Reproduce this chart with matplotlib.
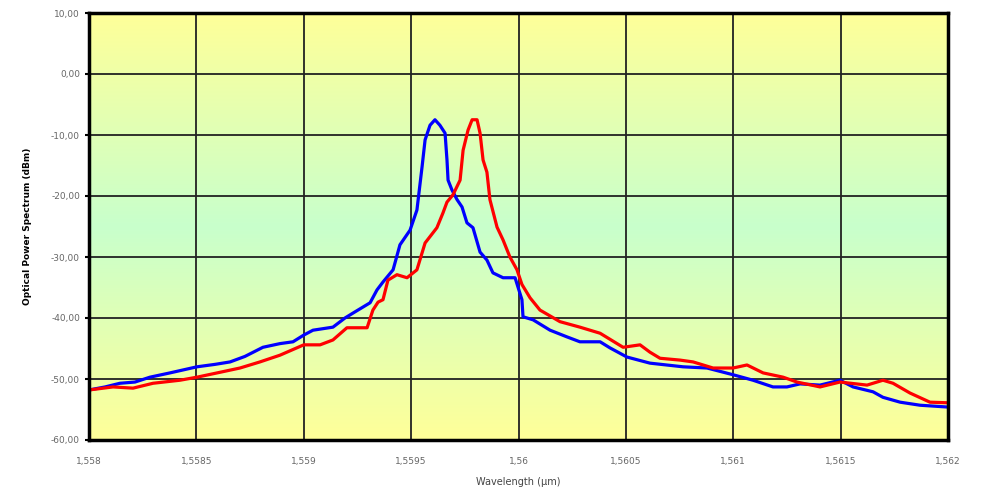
import numpy as np
import matplotlib
matplotlib.use('Agg')
import matplotlib.pyplot as plt
from matplotlib.colors import LinearSegmentedColormap
from matplotlib.ticker import FuncFormatter

# wavelength in um, power in dBm
blue_wl = [1.558000, 1.558075, 1.558144, 1.558214, 1.558284, 1.558377, 1.558503, 1.558587,
           1.558657, 1.558726, 1.558810, 1.558889, 1.558950, 1.559000, 1.559043, 1.559136,
           1.559192, 1.559229, 1.559309, 1.559341, 1.559369, 1.559416, 1.559448, 1.559495,
           1.559527, 1.559551, 1.559565, 1.559588, 1.559611, 1.559634, 1.559658, 1.559667,
           1.559672, 1.559690, 1.559714, 1.559737, 1.559760, 1.559788, 1.559821, 1.559853,
           1.559881, 1.559928, 1.559984, 1.560016, 1.560021, 1.560068, 1.560147, 1.560226,
           1.560286, 1.560380, 1.560426, 1.560505, 1.560612, 1.560766, 1.560878, 1.560999,
           1.561092, 1.561185, 1.561250, 1.561311, 1.561404, 1.561497, 1.561558, 1.561651,
           1.561697, 1.561777, 1.561870, 1.562000]
blue_db = [-51.8, -51.3, -50.7, -50.5, -49.7, -49.0, -48.0, -47.6,
           -47.2, -46.3, -44.8, -44.2, -43.9, -42.8, -42.0, -41.5,
           -40.0, -39.2, -37.5, -35.4, -34.1, -32.1, -28.0, -25.6,
           -22.3, -15.2, -10.8, -8.4, -7.5, -8.4, -9.7, -14.1,
           -17.4, -19.0, -20.6, -21.8, -24.4, -25.2, -29.2, -30.5,
           -32.6, -33.4, -33.4, -37.0, -39.8, -40.3, -42.0, -43.1,
           -43.9, -43.9, -44.9, -46.4, -47.4, -48.0, -48.2, -49.3,
           -50.2, -51.3, -51.3, -50.8, -51.0, -50.2, -51.3, -52.1,
           -53.0, -53.8, -54.3, -54.6]

red_wl = [1.558000, 1.558112, 1.558205, 1.558298, 1.558424, 1.558503, 1.558610, 1.558703,
          1.558796, 1.558889, 1.559000, 1.559076, 1.559136, 1.559201, 1.559295, 1.559322,
          1.559346, 1.559369, 1.559392, 1.559434, 1.559481, 1.559527, 1.559565, 1.559620,
          1.559648, 1.559667, 1.559695, 1.559728, 1.559742, 1.559765, 1.559784, 1.559807,
          1.559821, 1.559835, 1.559853, 1.559867, 1.559900, 1.559928, 1.559960, 1.559993,
          1.560016, 1.560054, 1.560100, 1.560193, 1.560286, 1.560380, 1.560487, 1.560566,
          1.560612, 1.560659, 1.560752, 1.560813, 1.560906, 1.560999, 1.561064, 1.561139,
          1.561232, 1.561297, 1.561404, 1.561497, 1.561623, 1.561697, 1.561744, 1.561823,
          1.561916, 1.562000]
red_db = [-51.8, -51.3, -51.5, -50.7, -50.2, -49.7, -48.9, -48.2,
          -47.2, -46.1, -44.4, -44.4, -43.6, -41.6, -41.6, -38.7,
          -37.4, -37.0, -33.8, -32.9, -33.4, -32.1, -27.7, -25.2,
          -22.8, -21.0, -19.8, -17.4, -12.5, -9.2, -7.5, -7.5,
          -9.7, -14.1, -16.1, -20.6, -25.1, -27.2, -30.0, -32.1,
          -34.5, -36.7, -38.7, -40.6, -41.5, -42.5, -44.8, -44.4,
          -45.6, -46.6, -46.9, -47.2, -48.2, -48.2, -47.7, -49.0,
          -49.7, -50.5, -51.3, -50.5, -51.0, -50.2, -50.7, -52.3,
          -53.8, -53.9]

xticks = [1.558, 1.5585, 1.559, 1.5595, 1.56, 1.5605, 1.561, 1.5615, 1.562]
yticks = [10, 0, -10, -20, -30, -40, -50, -60]

fig = plt.figure(figsize=(9.84, 4.88), dpi=100)
ax = fig.add_axes([89/984, 48/488, 859/984, 427/488])

# yellow -> green -> yellow background like the excel plot area
cmap = LinearSegmentedColormap.from_list('bg', ['#FFFF99', '#C8FFCC', '#FFFF99'])
grad = np.linspace(0, 1, 256).reshape(-1, 1)
ax.imshow(grad, cmap=cmap, aspect='auto', extent=[1.558, 1.562, -60, 10],
          origin='upper', zorder=0)

ax.plot(blue_wl, blue_db, color='#0000FF', lw=2.3, zorder=3)
ax.plot(red_wl, red_db, color='#FF0000', lw=2.3, zorder=3)

ax.set_xlim(1.558, 1.562)
ax.set_ylim(-60, 10)
ax.set_xticks(xticks)
ax.set_yticks(yticks)
ax.grid(True, color='#222222', lw=1.3, zorder=1)
ax.set_axisbelow(False)

ax.xaxis.set_major_formatter(FuncFormatter(lambda v, p: ('%g' % round(v, 4)).replace('.', ',')))
ax.yaxis.set_major_formatter(FuncFormatter(lambda v, p: ('%.2f' % v).replace('.', ',')))
ax.tick_params(axis='both', labelsize=6.5, labelcolor='#666666', length=3, width=1.5, color='black')
ax.tick_params(axis='x', pad=12, length=0)

for s in ax.spines.values():
    s.set_linewidth(2.5)
    s.set_color('black')
    s.set_zorder(5)

ax.set_xlabel('Wavelength (\u00b5m)', fontsize=7, color='#444444', labelpad=8)
ax.set_ylabel('Optical Power Spectrum (dBm)', fontsize=6.5, fontweight='bold', labelpad=14)

fig.savefig('out.png', dpi=100)
